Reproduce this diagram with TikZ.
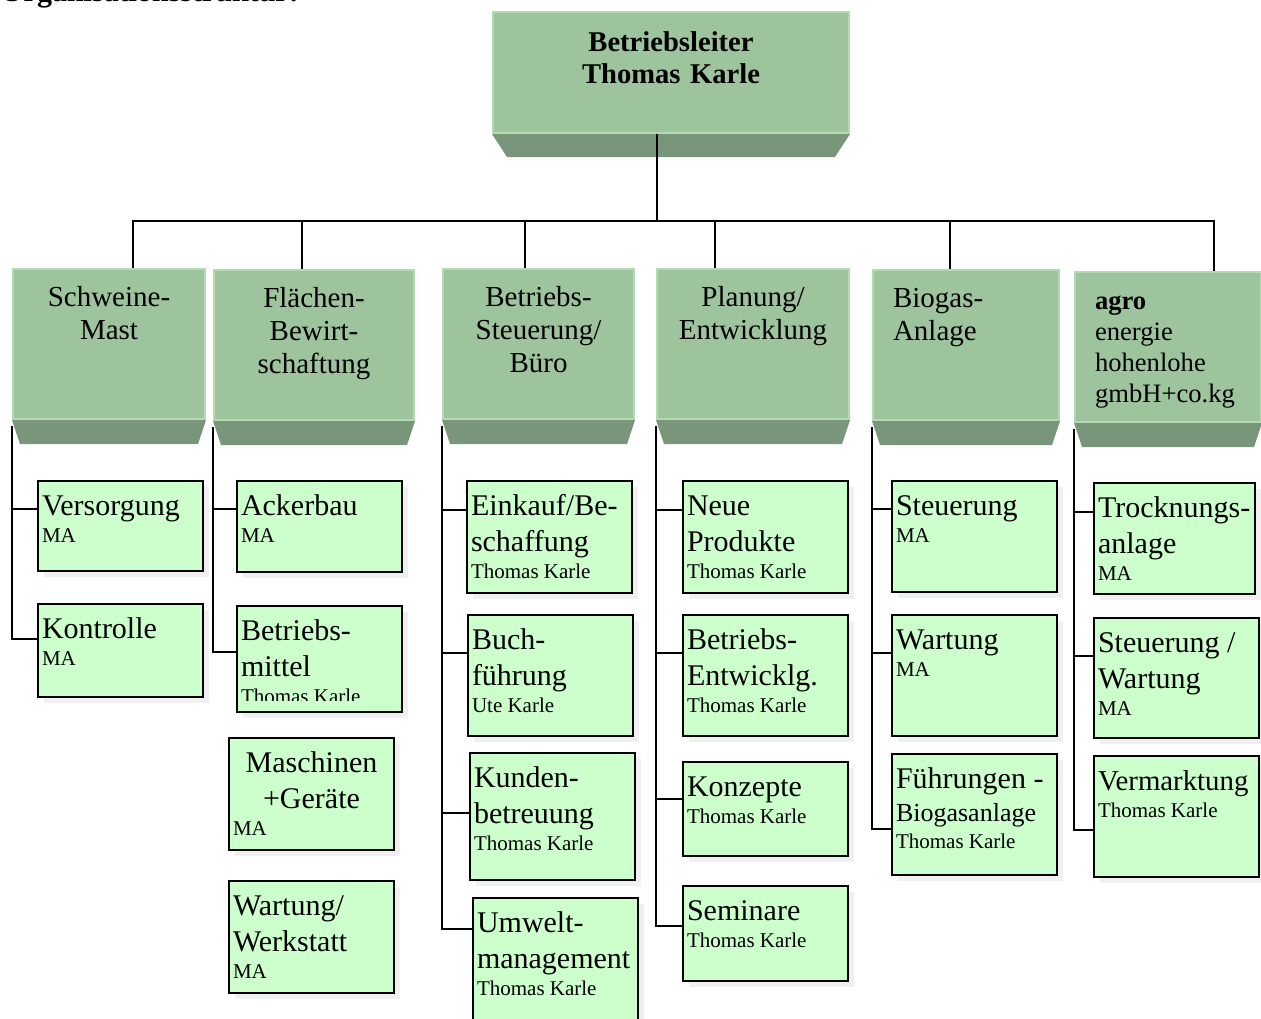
\documentclass[tikz,border=0pt]{standalone}
\usepackage{fontspec}
\setmainfont{Liberation Serif}
\usetikzlibrary{positioning,shadows}
\hyphenpenalty=10000
\exhyphenpenalty=10000

\definecolor{facegreen}{RGB}{157,196,157}
\definecolor{faceedge}{RGB}{180,218,180}
\definecolor{bevelgreen}{RGB}{122,150,122}
\definecolor{leafgreen}{RGB}{204,255,204}
\definecolor{shadowgrey}{RGB}{240,240,240}

\newcommand{\titlesize}{\fontsize{15pt}{18pt}\selectfont}
\newcommand{\staffsize}{\fontsize{10.5pt}{13.5pt}\selectfont\spaceskip=0pt\xspaceskip=0pt}
\newcommand{\headsize}{\fontsize{14.5pt}{16.5pt}\selectfont}
\newcommand{\staff}[1]{\par{\staffsize #1\par}}

\tikzset{face/.style={draw=faceedge,line width=1pt,fill=facegreen,anchor=north west,font=\headsize,align=center,text width=#1,text height=11pt,text depth=49pt,inner xsep=10pt,inner ysep=7.5pt},
bevel/.style={fill=bevelgreen},
leaf/.style={draw,line width=1pt,fill=leafgreen,anchor=north west,font=\titlesize,align=left,text width=78.5pt,text height=11pt,text depth=#1,inner xsep=2pt,inner ysep=6pt,execute at begin node={\spaceskip=0pt\xspaceskip=0pt},drop shadow={shadow xshift=3pt,shadow yshift=-3pt,fill=shadowgrey,opacity=1}},
tree/.style={line width=0.8pt}}

\begin{document}
\begin{tikzpicture}[x=0.5pt,y=-0.5pt]
\useasboundingbox (0,0) rectangle (1261,1018);
\node[anchor=base west,inner sep=0pt,font=\bfseries\fontsize{15pt}{17pt}\selectfont] (orga) at (0,1) {Organisationsstruktur:};

% Leitung und Bereiche
\node[face=158pt,font=\bfseries\fontsize{14.3pt}{16pt}\selectfont,text depth=32.5pt,inner ysep=8.5pt] (leiter) at (492,11) {Betriebsleiter\\Thomas Karle};
\node[face=76pt] (mast) at (12,268) {Schweine-\\Mast};
\node[face=80pt] (flaechen) at (213,269) {Flächen-\\Bewirt-\\schaftung};
\node[face=75.5pt] (steuer) at (442,268) {Betriebs-\\Steuerung/\\Büro};
\node[face=76pt] (planung) at (656,268) {Planung/\\Entwicklung};
\node[face=73pt,align=left] (biogas) at (872,269) {Biogas-\\Anlage};
\node[face=73pt,align=left,font=\fontsize{13.3pt}{15.5pt}\selectfont] (agro) at (1074,271) {\textbf{agro}\\energie\\hohenlohe\\gmbH+co.kg};

\fill[bevel] (leiter.south west) -- ([shift={(15,23)}]leiter.south west) -- ([shift={(-15,23)}]leiter.south east) -- (leiter.south east) -- cycle;
\fill[bevel] (mast.south west) -- ([shift={(8,24)}]mast.south west) -- ([shift={(-8,24)}]mast.south east) -- (mast.south east) -- cycle;
\fill[bevel] (flaechen.south west) -- ([shift={(8,24)}]flaechen.south west) -- ([shift={(-8,24)}]flaechen.south east) -- (flaechen.south east) -- cycle;
\fill[bevel] (steuer.south west) -- ([shift={(8,24)}]steuer.south west) -- ([shift={(-8,24)}]steuer.south east) -- (steuer.south east) -- cycle;
\fill[bevel] (planung.south west) -- ([shift={(8,24)}]planung.south west) -- ([shift={(-8,24)}]planung.south east) -- (planung.south east) -- cycle;
\fill[bevel] (biogas.south west) -- ([shift={(8,24)}]biogas.south west) -- ([shift={(-8,24)}]biogas.south east) -- (biogas.south east) -- cycle;
\fill[bevel] (agro.south west) -- ([shift={(8,24)}]agro.south west) -- ([shift={(-8,24)}]agro.south east) -- (agro.south east) -- cycle;

% Schweine-Mast
\node[leaf=22pt] (versorgung) at (37,480) {Versorgung\staff{MA}};
\node[leaf=23.5pt] (kontrolle) at (37,603) {Kontrolle\staff{MA}};
% Flaechen
\node[leaf=22.5pt] (ackerbau) at (236,480) {Ackerbau\staff{MA}};
\node[leaf=30pt] (mittel) at (236,605) {Betriebs-\\mittel\staff{Thomas Karle}};
\fill[leafgreen] ([shift={(2,-12)}]mittel.south west) rectangle ([shift={(-2,-2)}]mittel.south east);
\node[leaf=33pt] (maschinen) at (228,737) {{\centering Maschinen\\+Geräte\par}\staff{MA}};
\node[leaf=33pt] (werkstatt) at (228,880) {Wartung/\\Werkstatt\staff{MA}};
% Betriebssteuerung
\node[leaf=33pt] (einkauf) at (466,480) {Einkauf/Be-\\schaffung\staff{Thomas Karle}};
\node[leaf=37.5pt] (buchf) at (467,614) {Buch-\\führung\staff{Ute Karle}};
\node[leaf=40.5pt] (kunden) at (469,752) {Kunden-\\betreuung\staff{Thomas Karle}};
\node[leaf=46pt] (umwelt) at (472,897) {Umwelt-\\management\staff{Thomas Karle}};
% Planung
\node[leaf=33pt] (produkte) at (682,480) {Neue\\Produkte\staff{Thomas Karle}};
\node[leaf=37.5pt] (entwicklg) at (682,614) {Betriebs-\\Entwicklg.\staff{Thomas Karle}};
\node[leaf=24pt] (konzepte) at (682,761) {Konzepte\staff{Thomas Karle}};
\node[leaf=24.5pt] (seminare) at (682,885) {Seminare\staff{Thomas Karle}};
% Biogas
\node[leaf=32.5pt] (steuerung) at (891,480) {Steuerung\staff{MA}};
\node[leaf=37.5pt] (wartung) at (891,614) {Wartung\staff{MA}};
\node[leaf=37.5pt] (fuehrungen) at (891,753) {Führungen -\par{\fontsize{13pt}{16.5pt}\selectfont Biogasanlage\par}\staff{Thomas Karle}};
% agro energie
\node[leaf=32.5pt,text width=76.5pt] (trocknung) at (1093,482) {Trocknungs-\\anlage\staff{MA}};
\node[leaf=37pt] (stwartung) at (1093,617) {Steuerung /\\Wartung\staff{MA}};
\node[leaf=37.5pt] (vermarktung) at (1093,755) {{\fontsize{14.4pt}{18pt}\selectfont Vermarktung\par}\staff{Thomas Karle}};

% Linien
\coordinate (bus) at (657,221);
\draw[tree] (bus |- leiter.south) -- (bus);
\draw[tree] (bus) -| ([xshift=12pt]mast.north);
\draw[tree] (bus) -| ([xshift=-6pt]flaechen.north);
\draw[tree] (bus) -| ([xshift=-6.75pt]steuer.north);
\draw[tree] (bus) -| ([xshift=-19pt]planung.north);
\draw[tree] (bus) -| ([xshift=-8pt]biogas.north);
\draw[tree] (bus) -| ([xshift=23pt]agro.north);

\draw[tree] ([yshift=-3pt]mast.south west) |- ([yshift=-14.5pt]versorgung.north west);
\draw[tree] ([yshift=-3pt]mast.south west) |- ([yshift=-18pt]kontrolle.north west);
\draw[tree] ([yshift=-3pt]flaechen.south west) |- ([yshift=-14.5pt]ackerbau.north west);
\draw[tree] ([yshift=-3pt]flaechen.south west) |- ([yshift=-23.5pt]mittel.north west);
\draw[tree] ([yshift=-3pt]steuer.south west) |- ([yshift=-15pt]einkauf.north west);
\draw[tree] ([yshift=-3pt]steuer.south west) |- ([yshift=-19.5pt]buchf.north west);
\draw[tree] ([yshift=-3pt]steuer.south west) |- ([yshift=-30.5pt]kunden.north west);
\draw[tree] ([yshift=-3pt]steuer.south west) |- ([yshift=-16pt]umwelt.north west);
\draw[tree] ([yshift=-3pt]planung.south west) |- ([yshift=-15pt]produkte.north west);
\draw[tree] ([yshift=-3pt]planung.south west) |- ([yshift=-19.5pt]entwicklg.north west);
\draw[tree] ([yshift=-3pt]planung.south west) |- ([yshift=-19pt]konzepte.north west);
\draw[tree] ([yshift=-3pt]planung.south west) |- ([yshift=-20.5pt]seminare.north west);
\draw[tree] ([yshift=-3pt]biogas.south west) |- ([yshift=-14.5pt]steuerung.north west);
\draw[tree] ([yshift=-3pt]biogas.south west) |- ([yshift=-19.5pt]wartung.north west);
\draw[tree] ([yshift=-3pt]biogas.south west) |- ([yshift=-38pt]fuehrungen.north west);
\draw[tree] ([yshift=-3pt]agro.south west) |- ([yshift=-15pt]trocknung.north west);
\draw[tree] ([yshift=-3pt]agro.south west) |- ([yshift=-19.5pt]stwartung.north west);
\draw[tree] ([yshift=-3pt]agro.south west) |- ([yshift=-37.5pt]vermarktung.north west);
\end{tikzpicture}
\end{document}
